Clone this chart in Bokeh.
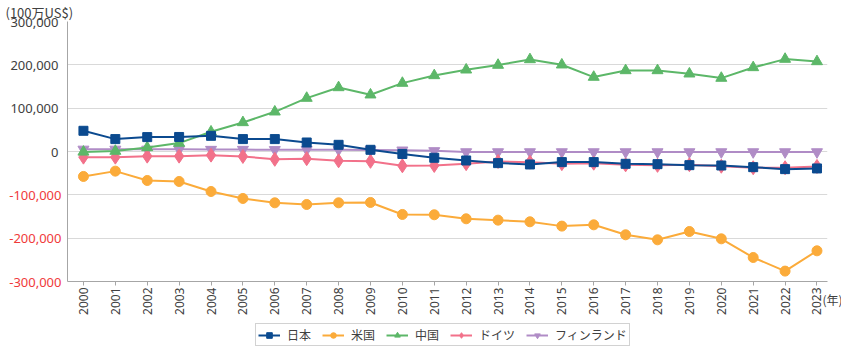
import math
from bokeh.plotting import figure
from bokeh.layouts import column
from bokeh.models import (Range1d, FixedTicker, Legend, LegendItem, LinearAxis,
                          ColumnDataSource, NumeralTickFormatter)
from bokeh.embed import file_html
from bokeh.resources import INLINE

# ---- data ----
years = list(range(2000, 2024))
japan = [47800, 28600, 33200, 33500, 36200, 28600, 28600, 20800, 15400, 3900,
         -5700, -14500, -20700, -26800, -29900, -24500, -24500, -28400, -29200,
         -31500, -32300, -36100, -40700, -39100]
usa = [-57600, -45300, -66900, -69200, -92300, -108400, -118400, -122300, -118400,
       -117600, -145300, -146000, -155300, -158400, -162200, -172200, -169200,
       -192200, -203800, -184600, -201500, -244600, -276000, -229200]
china = [-1000, 900, 9200, 19400, 45500, 67000, 91600, 123200, 147700, 130900,
         157800, 175400, 188500, 199400, 212300, 200100, 171700, 186900, 186900,
         179300, 169400, 193900, 213200, 207700]
germany = [-13000, -13000, -10700, -10700, -8400, -11400, -18000, -16500, -21500,
           -22700, -33000, -32200, -28000, -23000, -24600, -28000, -27000, -30800,
           -32000, -30500, -34000, -37500, -37500, -34500]
finland = [5000, 5000, 5000, 5000, 4500, 4500, 4000, 4000, 4000, 3500, 3000, 1500,
           -1000, -1000, -1000, -1000, -1000, -1000, -1000, -1000, -1000, -1000,
           -1000, -1000]
series_names = ["日本", "米国", "中国", "ドイツ", "フィンランド"]
y_ticks = [-300000, -200000, -100000, 0, 100000, 200000, 300000]
unit_label = "(100万US$)"
year_unit = "(年)"

colors = {"日本": "#0b4a8f", "米国": "#fbab3a", "中国": "#5cb768",
          "ドイツ": "#f2718a", "フィンランド": "#b08cc6"}
markers = {"日本": ("square", 9), "米国": ("circle", 10), "中国": ("triangle", 11),
           "ドイツ": ("diamond", 14), "フィンランド": ("inverted_triangle", 11)}
data = {"日本": japan, "米国": usa, "中国": china, "ドイツ": germany, "フィンランド": finland}

AX = "#a6a6a6"
TXT = "#404040"
RED = "#f03a3a"
NUM_FONT = "Noto Sans"
JP_FONT = "Noto Sans CJK JP"

x_start, x_end = 1999.5, 2023.33
p = figure(width=833, height=318, frame_width=760, frame_height=260,
           min_border_left=0, min_border_top=0, min_border_right=0, min_border_bottom=0,
           x_range=Range1d(x_start, x_end), y_range=Range1d(y_ticks[0], y_ticks[-1]),
           output_backend="svg", toolbar_location=None)
p.outline_line_color = None

# title used as unit label
p.title.text = unit_label
p.title.align = "left"
p.title.offset = -62
p.title.standoff = 0
p.title.text_font = JP_FONT
p.title.text_font_size = "13px"
p.title.text_font_style = "normal"
p.title.text_color = TXT
p.title.text_line_height = 1.0

# x axis
xa = p.xaxis[0]
xa.ticker = FixedTicker(ticks=years)
xa.major_label_orientation = math.pi / 2
xa.major_label_text_font = NUM_FONT
xa.major_label_text_font_size = "12px"
xa.major_label_text_color = TXT
xa.axis_line_color = AX
xa.major_tick_line_color = AX
xa.major_tick_out = 4
xa.major_tick_in = 0
xa.minor_tick_line_color = None
xa.major_label_standoff = 2


def style_y(ax):
    ax.ticker = FixedTicker(ticks=y_ticks)
    ax.formatter = NumeralTickFormatter(format="0,0")
    ax.major_label_text_font = NUM_FONT
    ax.major_label_text_font_size = "13px"
    ax.major_tick_line_color = None
    ax.major_tick_out = 0
    ax.major_tick_in = 0
    ax.minor_tick_line_color = None


# inner y axis: negative labels in red
ya = p.yaxis[0]
style_y(ya)
ya.axis_line_color = AX
ya.major_label_text_color = RED
ya.major_label_overrides = {t: " " for t in y_ticks if t >= 0}
ya.major_label_standoff = 6

# outer y axis: non-negative labels in dark grey, pulled back onto the same column
ya2 = LinearAxis()
style_y(ya2)
ya2.axis_line_color = None
ya2.major_label_text_color = TXT
ya2.major_label_overrides = {t: " " for t in y_ticks if t < 0}
ya2.major_label_standoff = -52
ya2.axis_label = " "
ya2.axis_label_text_font_size = "1px"
ya2.axis_label_standoff = 3
p.add_layout(ya2, "left")

# right axis carrying the "(年)" unit next to the last year
ya3 = LinearAxis(ticker=FixedTicker(ticks=[y_ticks[0]]))
ya3.major_label_overrides = {y_ticks[0]: "\n\n" + year_unit}
ya3.axis_line_color = None
ya3.major_tick_line_color = None
ya3.minor_tick_line_color = None
ya3.major_tick_out = 0
ya3.major_tick_in = 0
ya3.major_label_standoff = -5
ya3.major_label_text_font = JP_FONT
ya3.major_label_text_font_size = "12px"
ya3.major_label_text_line_height = 1.05
ya3.major_label_text_color = TXT
p.add_layout(ya3, "right")

p.xgrid.visible = False
p.ygrid.ticker = FixedTicker(ticks=y_ticks)
p.ygrid.grid_line_color = "#d9d9d9"
p.ygrid.grid_line_width = 1

# series
for name in ["フィンランド", "ドイツ", "米国", "中国", "日本"]:
    src = ColumnDataSource(dict(x=years, y=data[name]))
    c = colors[name]
    p.line("x", "y", source=src, line_color=c, line_width=2)
    mk, sz = markers[name]
    p.scatter("x", "y", source=src, marker=mk, size=sz, fill_color=c, line_color=c)

# legend strip: a legend-only figure whose ranges keep its series out of view
lg = figure(width=833, height=29, min_border_left=0, min_border_top=0,
            min_border_right=0, min_border_bottom=0, x_axis_type=None, y_axis_type=None,
            x_range=Range1d(0, 1), y_range=Range1d(0, 1),
            output_backend="svg", toolbar_location=None)
lg.outline_line_color = None
lg.xgrid.visible = False
lg.ygrid.visible = False
items = []
for name in series_names:
    src = ColumnDataSource(dict(x=years, y=data[name]))
    c = colors[name]
    mk, sz = markers[name]
    r1 = lg.line("x", "y", source=src, line_color=c, line_width=2)
    r2 = lg.scatter("x", "y", source=src, marker=mk, size=sz, fill_color=c, line_color=c)
    items.append(LegendItem(label=name, renderers=[r1, r2]))
legend = Legend(items=items, orientation="horizontal", location=(188, 0),
                border_line_color="#a6a6a6", border_line_width=1,
                padding=2, spacing=11, label_standoff=7,
                glyph_width=22, glyph_height=14, label_height=16,
                label_text_font=JP_FONT, label_text_font_size="12px",
                label_text_color=TXT, margin=0)
lg.add_layout(legend)

layout = column(p, lg, spacing=0)
open("out.html", "w").write(file_html(layout, INLINE))
